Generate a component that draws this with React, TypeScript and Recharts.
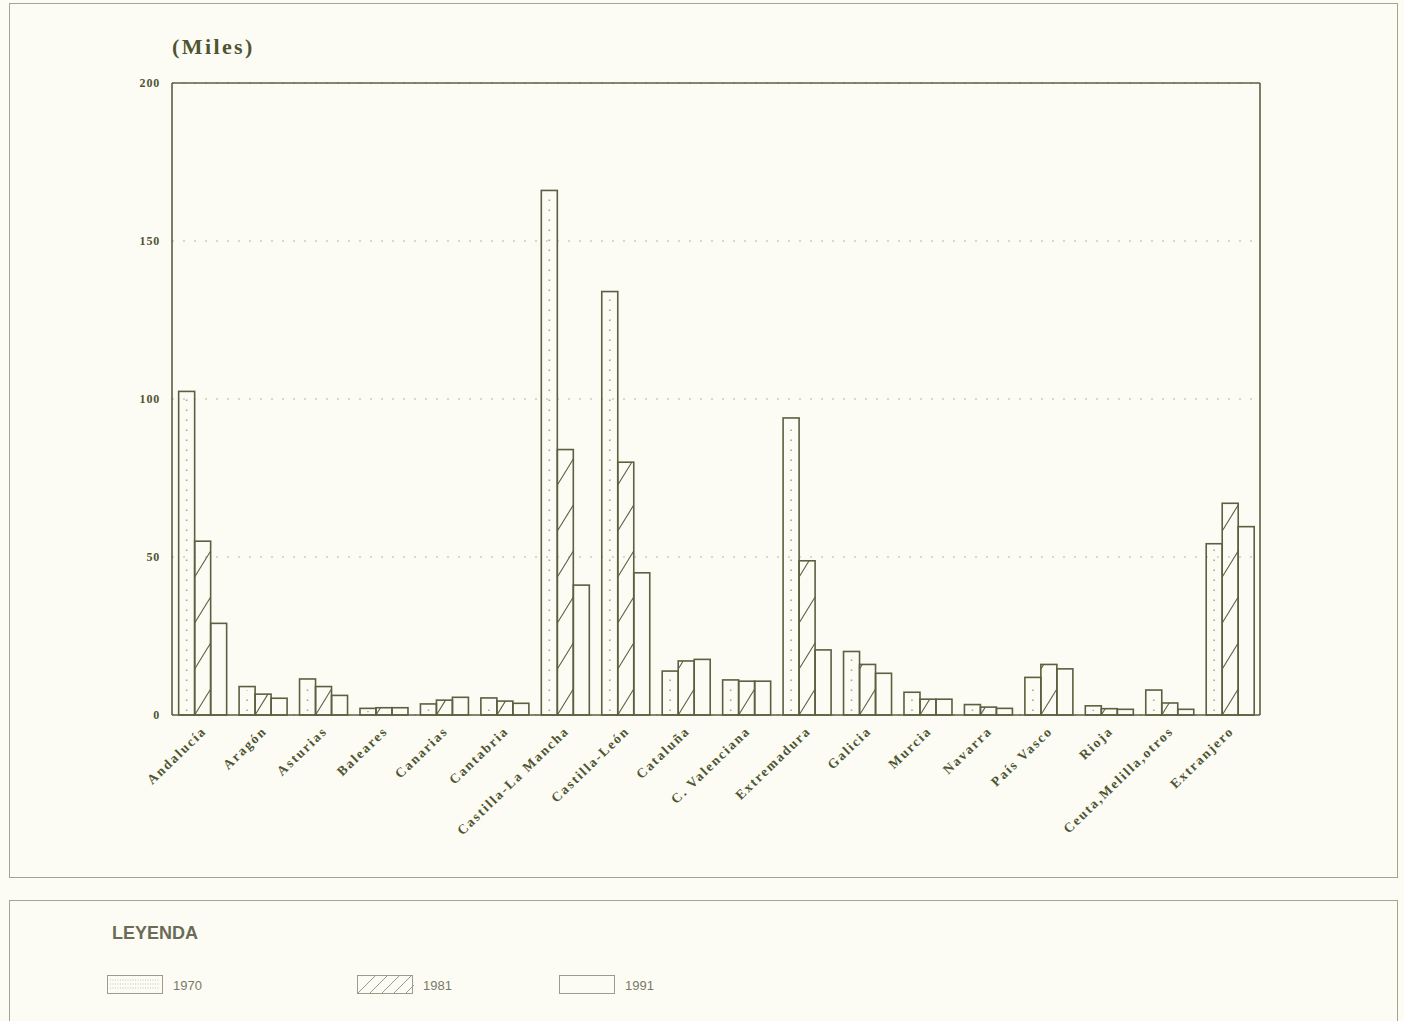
import React from 'react';
import { BarChart, Bar, XAxis, YAxis, CartesianGrid, ReferenceLine } from 'recharts';

const regions = [
  'Andalucía', 'Aragón', 'Asturias', 'Baleares', 'Canarias', 'Cantabria',
  'Castilla-La Mancha', 'Castilla-León', 'Cataluña', 'C. Valenciana', 'Extremadura',
  'Galicia', 'Murcia', 'Navarra', 'País Vasco', 'Rioja', 'Ceuta,Melilla,otros', 'Extranjero',
];

// miles de personas
const values1970 = [102.4, 9.0, 11.4, 2.1, 3.5, 5.4, 166, 134, 13.9, 11.1, 94, 20.1, 7.2, 3.3, 11.9, 2.9, 7.9, 54.2];
const values1981 = [55, 6.6, 9.0, 2.3, 4.7, 4.4, 84, 80, 17.1, 10.7, 48.8, 16.0, 5.0, 2.5, 16.0, 2.0, 3.8, 67];
const values1991 = [29, 5.3, 6.2, 2.3, 5.6, 3.7, 41.1, 45, 17.6, 10.7, 20.6, 13.2, 5.0, 2.1, 14.6, 1.8, 1.8, 59.6];

const years = ['1970', '1981', '1991'];
const yTicks = [0, 50, 100, 150, 200];

const LINE = '#5a6040';
const TEXT = '#4f5532';
const BG = '#fcfcf4';

const data = regions.map((r, i) => ({
  region: r,
  y1970: values1970[i],
  y1981: values1981[i],
  y1991: values1991[i],
}));

const DottedBar = (props: any) => {
  const { x, y, width, height } = props;
  if (!height) return null;
  const cx = x + width / 2;
  return (
    <g>
      <line x1={cx} y1={y + height - 4} x2={cx} y2={y + 4} stroke="#a6a88c" strokeWidth={1.6} strokeDasharray="1.5 8.5" />
      <rect x={x} y={y} width={width} height={height} fill="none" stroke={LINE} strokeWidth={1.6} />
    </g>
  );
};

const HatchBar = (props: any) => {
  const { x, y, width, height } = props;
  if (!height) return null;
  const rise = 26;
  const step = 46;
  const segs = [];
  for (let k = y + height; k > y; k -= step) {
    let x2 = x + width;
    let y2 = k - rise;
    if (y2 < y) {
      x2 = x + (width * (k - y)) / rise;
      y2 = y;
    }
    segs.push(<line key={k} x1={x} y1={k} x2={x2} y2={y2} stroke={LINE} strokeWidth={1.1} />);
  }
  return (
    <g>
      {segs}
      <rect x={x} y={y} width={width} height={height} fill="none" stroke={LINE} strokeWidth={1.6} />
    </g>
  );
};

const PlainBar = (props: any) => {
  const { x, y, width, height } = props;
  if (!height) return null;
  return <rect x={x} y={y} width={width} height={height} fill="none" stroke={LINE} strokeWidth={1.6} />;
};

const RegionTick = (props: any) => {
  const { x, y, payload } = props;
  const ax = x + 5;
  const ay = y + 9;
  return (
    <text
      x={ax}
      y={ay}
      transform={`rotate(-44, ${ax}, ${ay})`}
      textAnchor="end"
      fontFamily="'Liberation Serif', 'DejaVu Serif', serif"
      fontWeight="bold"
      fontSize={13.5}
      letterSpacing={1.9}
      fill={TEXT}
    >
      {payload.value}
    </text>
  );
};

const swatch = (i: number) => {
  if (i === 0) {
    return (
      <svg width={57} height={20}>
        <rect x={0.5} y={0.5} width={55} height={18} fill="none" stroke="#9c9c8a" />
        {[5, 9, 13].map((yy) => (
          <line key={yy} x1={3} x2={53} y1={yy} y2={yy} stroke="#c4c4b0" strokeDasharray="1 1.5" />
        ))}
      </svg>
    );
  }
  if (i === 1) {
    return (
      <svg width={57} height={20}>
        {[0, 12, 24, 36, 48].map((o) => (
          <line key={o} x1={o} y1={19} x2={o + 18} y2={1} stroke="#9c9c8a" />
        ))}
        <rect x={0.5} y={0.5} width={55} height={18} fill="none" stroke="#9c9c8a" />
      </svg>
    );
  }
  return (
    <svg width={57} height={20}>
      <rect x={0.5} y={0.5} width={55} height={18} fill="none" stroke="#9c9c8a" />
    </svg>
  );
};

const legendX = [107, 357, 559];

export default function App() {
  return (
    <div style={{ position: 'absolute', left: 0, top: 0, width: 1404, height: 1021, background: BG, overflow: 'hidden' }}>
      <div style={{ position: 'absolute', left: 9, top: 3, width: 1387, height: 873, border: '1px solid #a4a492' }} />
      <div
        style={{
          position: 'absolute', left: 172, top: 33, fontFamily: "'Liberation Serif', serif",
          fontWeight: 'bold', fontSize: 22, letterSpacing: 2.4, color: TEXT, lineHeight: '28px',
        }}
      >
        (Miles)
      </div>
      <div style={{ position: 'absolute', left: 0, top: 0 }}>
        <BarChart
          width={1404}
          height={880}
          data={data}
          margin={{ top: 83, left: 112, right: 143, bottom: 0 }}
          barCategoryGap="11%"
          barGap={0}
        >
          <CartesianGrid vertical={false} stroke="#b4b4a2" strokeDasharray="2 9" />
          <XAxis
            dataKey="region"
            interval={0}
            tick={<RegionTick />}
            tickLine={false}
            axisLine={{ stroke: LINE, strokeWidth: 1.6 }}
            height={165}
          />
          <YAxis
            domain={[0, 200]}
            ticks={yTicks}
            width={60}
            tickLine={false}
            tickMargin={6}
            axisLine={{ stroke: LINE, strokeWidth: 1.6 }}
            tick={{ fontFamily: "'Liberation Serif', serif", fontWeight: 'bold', fontSize: 12, letterSpacing: 0.8, fill: TEXT }}
          />
          <YAxis
            yAxisId="frame"
            orientation="right"
            domain={[0, 200]}
            width={1}
            tick={false}
            tickLine={false}
            axisLine={{ stroke: LINE, strokeWidth: 1.6 }}
          />
          <ReferenceLine y={200} stroke={LINE} strokeWidth={1.6} />
          <Bar dataKey="y1970" name={years[0]} shape={<DottedBar />} isAnimationActive={false} />
          <Bar dataKey="y1981" name={years[1]} shape={<HatchBar />} isAnimationActive={false} />
          <Bar dataKey="y1991" name={years[2]} shape={<PlainBar />} isAnimationActive={false} />
        </BarChart>
      </div>
      <div style={{ position: 'absolute', left: 9, top: 900, width: 1387, height: 160, border: '1px solid #a4a492' }} />
      <div
        style={{
          position: 'absolute', left: 112, top: 923, fontFamily: "'Liberation Sans', Arial, sans-serif",
          fontWeight: 'bold', fontSize: 18, color: '#6b6b58',
        }}
      >
        LEYENDA
      </div>
      {years.map((yr, i) => (
        <div
          key={yr}
          style={{
            position: 'absolute', left: legendX[i], top: 975, display: 'flex', alignItems: 'center',
            fontFamily: "'Liberation Sans', Arial, sans-serif", fontSize: 13, color: '#7a7a68',
          }}
        >
          {swatch(i)}
          <span style={{ marginLeft: 9 }}>{yr}</span>
        </div>
      ))}
    </div>
  );
}
